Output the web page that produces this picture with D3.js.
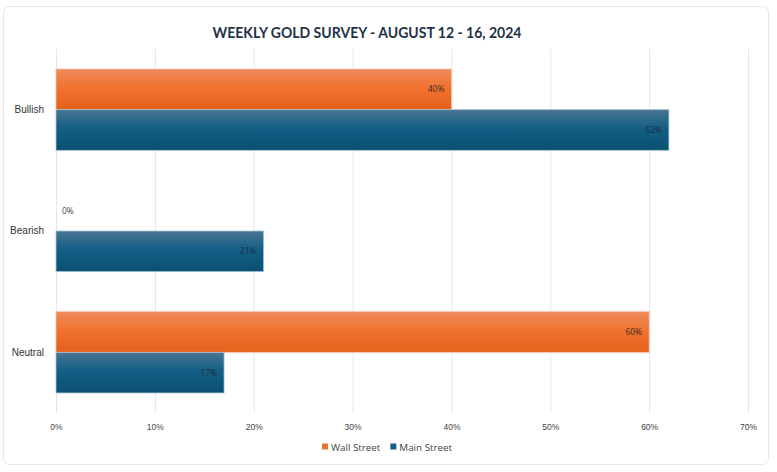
<!DOCTYPE html>
<html>
<head>
<meta charset="utf-8">
<script src="https://cdn.jsdelivr.net/npm/d3@7"></script>
<style>
html,body{margin:0;padding:0;background:#fff;}
svg{display:block;font-family:"Open Sans","Noto Sans",sans-serif;}
</style>
</head>
<body>
<script>
const categories = ["Bullish", "Bearish", "Neutral"];
const seriesNames = ["Wall Street", "Main Street"];
const wallStreet = [40, 0, 60];
const mainStreet = [62, 21, 17];
const xTicks = [0, 10, 20, 30, 40, 50, 60, 70];
const title = "WEEKLY GOLD SURVEY - AUGUST 12 - 16, 2024";

(function(){
const W = 777, H = 472;
const svg = d3.select("body").append("svg").attr("width", W).attr("height", H);

// card border
svg.append("rect").attr("x", 3.5).attr("y", 6.5).attr("width", 765).attr("height", 458)
  .attr("rx", 6).attr("fill", "#fff").attr("stroke", "#e3e8ef").attr("stroke-width", 1);

const defs = svg.append("defs");
const gradO = defs.append("linearGradient").attr("id", "gO").attr("x1", 0).attr("y1", 0).attr("x2", 0).attr("y2", 1);
gradO.append("stop").attr("offset", "0%").attr("stop-color", "#ef8a5c");
gradO.append("stop").attr("offset", "45%").attr("stop-color", "#f0732f");
gradO.append("stop").attr("offset", "100%").attr("stop-color", "#e5601b");
const gradB = defs.append("linearGradient").attr("id", "gB").attr("x1", 0).attr("y1", 0).attr("x2", 0).attr("y2", 1);
gradB.append("stop").attr("offset", "0%").attr("stop-color", "#4a7592");
gradB.append("stop").attr("offset", "45%").attr("stop-color", "#135f85");
gradB.append("stop").attr("offset", "100%").attr("stop-color", "#0b5072");

const colors = ["url(#gO)", "url(#gB)"];
const legendColors = ["#f0732f", "#135f85"];

const pL = 56, pR = 748, pT = 49, pB = 413;
const x = d3.scaleLinear().domain([0, 70]).range([pL, pR]);
const y = d3.scaleBand().domain(categories).range([pT, pB]).paddingInner(0.33).paddingOuter(0.165);
const y1 = d3.scaleBand().domain(seriesNames).range([0, y.bandwidth()]);

// title
svg.append("text").attr("x", 367).attr("y", 38).attr("text-anchor", "middle")
  .attr("font-family", "Lato, 'Open Sans', sans-serif").attr("font-weight", 700).attr("font-size", 14.5)
  .attr("textLength", 309).attr("lengthAdjust", "spacingAndGlyphs")
  .attr("fill", "#1f3347").text(title);

// gridlines
const xAxis = d3.axisBottom(x).tickValues(xTicks).tickFormat(d => d + "%").tickSize(-(pB - pT)).tickPadding(11);
const gx = svg.append("g").attr("transform", `translate(0,${pB})`).call(xAxis);
gx.select(".domain").remove();
gx.selectAll(".tick line").attr("stroke", "#dde8f4").attr("stroke-width", 1);
gx.selectAll(".tick text").attr("fill", "#444").attr("font-size", 8.5);

// y labels
const yAxis = d3.axisLeft(y).tickSize(0).tickPadding(12);
const gy = svg.append("g").attr("transform", `translate(${pL},0)`).call(yAxis);
gy.select(".domain").remove();
gy.selectAll(".tick text").attr("fill", "#333").attr("font-size", 10);

const data = categories.map((c, i) => ({cat: c, vals: [wallStreet[i], mainStreet[i]]}));
const groups = svg.append("g").selectAll("g").data(data).join("g")
  .attr("transform", d => `translate(0,${y(d.cat)})`);

groups.selectAll("rect").data(d => d.vals.map((v, j) => ({v, j})))
  .join("rect")
  .attr("x", x(0)).attr("y", d => y1(seriesNames[d.j]))
  .attr("width", d => x(d.v) - x(0)).attr("height", y1.bandwidth())
  .attr("fill", d => colors[d.j])
  .attr("stroke", d => d.v > 0 ? (d.j === 0 ? "#f6c2a6" : "#a9c3d4") : "none").attr("stroke-width", 0.8);

groups.selectAll("text.lbl").data(d => d.vals.map((v, j) => ({v, j})))
  .join("text").attr("class", "lbl")
  .attr("x", d => d.v > 5 ? x(d.v) - 7 : x(d.v) + 6)
  .attr("y", d => y1(seriesNames[d.j]) + y1.bandwidth() / 2 + 3)
  .attr("text-anchor", d => d.v > 5 ? "end" : "start")
  .attr("font-size", 8.5).attr("fill", d => d.v > 5 ? (d.j === 0 ? "#3b2a20" : "#1c2c38") : "#444")
  .text(d => d.v + "%");

// legend
const lg = svg.append("g").attr("transform", "translate(322,448)");
let lx = 0;
seriesNames.forEach((n, i) => {
  lg.append("rect").attr("x", lx).attr("y", -4.5).attr("width", 6).attr("height", 6).attr("fill", legendColors[i]);
  const t = lg.append("text").attr("x", lx + 9).attr("y", 2.5).attr("font-size", 9.8).attr("fill", "#444").text(n);
  lx += 9 + t.node().getComputedTextLength() + 10;
});
})();
</script>
</body>
</html>
